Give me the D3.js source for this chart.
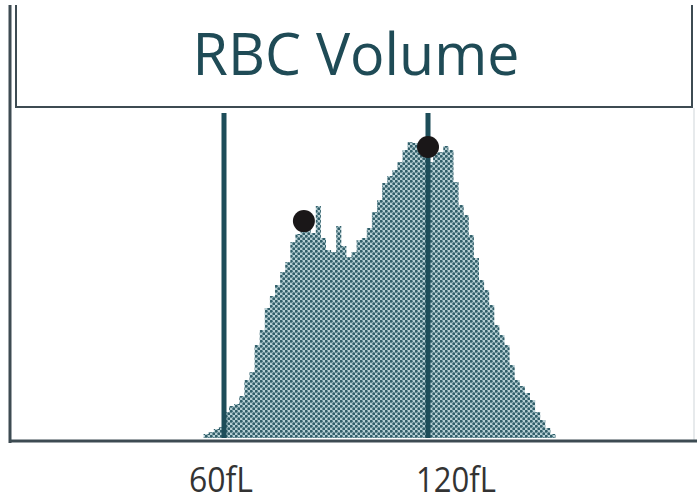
<!DOCTYPE html>
<meta charset="utf-8">
<style>
body { margin: 0; background: #fff; }
text { font-family: "Open Sans", "DejaVu Sans", sans-serif; }
</style>
<svg width="697" height="501"></svg>
<script src="https://d3js.org/d3.v7.min.js"></script>
<script>

// histogram bins: start volume (fL) of each 1.5 fL bin, relative counts
var binStart = 54, binWidth = 1.5;
var counts = [1.3, 2, 3, 3.7, 8.7, 10.7, 11.3, 14, 19.3, 22,
  31, 36, 43.3, 47.3, 51, 55.3, 58.7, 65.3, 68, 69.7,
  69.3, 68.3, 77.3, 66.7, 62.7, 62, 70.7, 64, 60.3, 62,
  66, 66.7, 70, 75.3, 79.3, 85, 87.3, 89.3, 92, 96,
  98.7, 98.3, 96, 95.3, 92, 95, 95.3, 97.3, 96, 85.3,
  77.7, 74.3, 67.7, 60, 52.7, 49.3, 44.3, 37.7, 34.3, 31,
  24.3, 19.3, 17.3, 15, 12.7, 8.7, 6, 3.3, 1.3];
var markers = [60, 120];          // discriminator lines
var markerLabels = ["60fL", "120fL"];
var peaks = [[83.5, 72.3], [120, 97]]; // [fL, count] of the two peak dots
var title = "RBC Volume";

var svg = d3.select("svg");

var x = d3.scaleLinear().domain([60, 120]).range([224, 428]);
var y = d3.scaleLinear().domain([0, 100]).range([438, 138]);

// halftone fill
var defs = svg.append("defs");
var pat = defs.append("pattern")
    .attr("id", "dots")
    .attr("patternUnits", "userSpaceOnUse")
    .attr("width", 5).attr("height", 5);
pat.append("rect").attr("width", 5).attr("height", 5).attr("fill", "#b6cfd4");
pat.append("circle").attr("cx", 1.25).attr("cy", 1.25).attr("r", 1.45).attr("fill", "#305e69");
pat.append("circle").attr("cx", 3.75).attr("cy", 3.75).attr("r", 1.45).attr("fill", "#305e69");

// frame
var frame = svg.append("g").attr("fill", "none").attr("stroke", "#3d4b52");
frame.append("line").attr("x1", 10).attr("x2", 10).attr("y1", 5).attr("y2", 443).attr("stroke-width", 3);
frame.append("path")
    .attr("d", "M16,5 V107 H692 V5")
    .attr("stroke-width", 2);
frame.append("line").attr("x1", 694).attr("x2", 694).attr("y1", 108).attr("y2", 440)
    .attr("stroke", "#dfe3e6").attr("stroke-width", 1.5);

svg.append("text")
    .attr("x", 356).attr("y", 75)
    .attr("text-anchor", "middle")
    .attr("font-size", 58)
    .attr("font-weight", 500)
    .attr("textLength", 327)
    .attr("lengthAdjust", "spacingAndGlyphs")
    .attr("fill", "#1f4b56")
    .text(title);

// histogram as a step area
var pts = counts.map(function(c, i) { return [binStart + i * binWidth, c]; });
pts.push([binStart + counts.length * binWidth, counts[counts.length - 1]]);

var area = d3.area()
    .curve(d3.curveStepAfter)
    .x(function(d) { return x(d[0]); })
    .y0(y(0))
    .y1(function(d) { return y(d[1]); });

svg.append("path")
    .datum(pts)
    .attr("fill", "url(#dots)")
    .attr("d", area);

// discriminator lines
svg.selectAll(".marker")
  .data(markers)
  .enter().append("line")
    .attr("class", "marker")
    .attr("x1", function(d) { return x(d); })
    .attr("x2", function(d) { return x(d); })
    .attr("y1", 113).attr("y2", y(0))
    .attr("stroke", "#1d4d59")
    .attr("stroke-width", 5);

// baseline
svg.append("line")
    .attr("x1", 10).attr("x2", 697)
    .attr("y1", 441).attr("y2", 441)
    .attr("stroke", "#3d4b52").attr("stroke-width", 3);

// peak dots
svg.selectAll(".peak")
  .data(peaks)
  .enter().append("circle")
    .attr("class", "peak")
    .attr("cx", function(d) { return x(d[0]); })
    .attr("cy", function(d) { return y(d[1]); })
    .attr("r", 11)
    .attr("fill", "#1a1718");

// labels under the lines
var labelShift = [-3, 28];
svg.selectAll(".lbl")
  .data(markers)
  .enter().append("text")
    .attr("class", "lbl")
    .attr("x", function(d, i) { return x(d) + labelShift[i]; })
    .attr("y", 492)
    .attr("text-anchor", "middle")
    .attr("font-size", 35)
    .attr("textLength", function(d, i) { return i ? 80 : 64; })
    .attr("lengthAdjust", "spacingAndGlyphs")
    .attr("fill", "#333")
    .text(function(d, i) { return markerLabels[i]; });

</script>
